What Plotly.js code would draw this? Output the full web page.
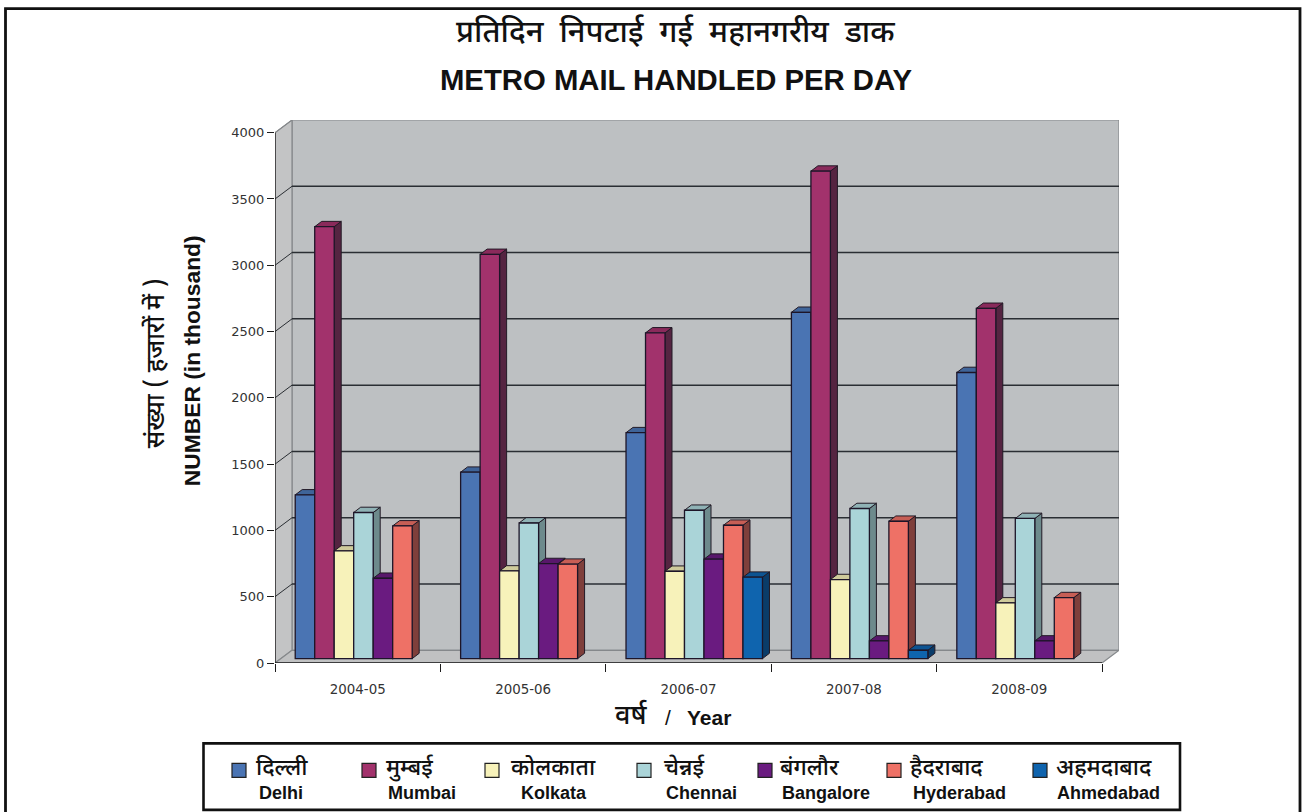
<!DOCTYPE html>
<html>
<head>
<meta charset="utf-8">
<script src="https://cdn.plot.ly/plotly-3.0.1.min.js"></script>
<style>html,body{margin:0;padding:0;background:#fff}#chart{width:1303px;height:812px}</style>
</head>
<body>
<div id="chart"></div>
<script>
// Metro mail handled per day, in thousands
const years = ['2004-05', '2005-06', '2006-07', '2007-08', '2008-09'];
const delhi     = [1235, 1406, 1704, 2612, 2158];
const mumbai    = [3258, 3049, 2457, 3677, 2642];
const kolkata   = [812, 661, 659, 596, 420];
const chennai   = [1102, 1023, 1119, 1132, 1057];
const bangalore = [606, 717, 750, 133, 133];
const hyderabad = [1001, 712, 1006, 1036, 460];
const ahmedabad = [null, null, 614, 63, null];
const yTicks = [0, 500, 1000, 1500, 2000, 2500, 3000, 3500, 4000];

const cities = [
  {hi: 'दिल्ली', en: 'Delhi', values: delhi, front: '#4a74b3', top: '#3f6499', side: '#2f4c78', swatch: 232, hiX: 256, enX: 259},
  {hi: 'मुम्बई', en: 'Mumbai', values: mumbai, front: '#a2326c', top: '#8a2a5b', side: '#552441', swatch: 362, hiX: 386, enX: 388},
  {hi: 'कोलकाता', en: 'Kolkata', values: kolkata, front: '#f7f2ba', top: '#cfcb9b', side: '#9c9975', swatch: 485, hiX: 511, enX: 521},
  {hi: 'चेन्नई', en: 'Chennai', values: chennai, front: '#aad4d8', top: '#8fb2b5', side: '#6d8a8c', swatch: 637, hiX: 664, enX: 666},
  {hi: 'बंगलौर', en: 'Bangalore', values: bangalore, front: '#6a1b80', top: '#58176b', side: '#43114f', swatch: 758, hiX: 780, enX: 782},
  {hi: 'हैदराबाद', en: 'Hyderabad', values: hyderabad, front: '#ee7166', top: '#c75e55', side: '#7f3f3b', swatch: 887, hiX: 910, enX: 913},
  {hi: 'अहमदाबाद', en: 'Ahmedabad', values: ahmedabad, front: '#0f64ae', top: '#0d5492', side: '#0a3c69', swatch: 1033, hiX: 1056, enX: 1057}
];

const HINDI = '"Noto Sans Devanagari", "Noto Sans", "Lohit Devanagari", sans-serif';
const LATIN = '"Liberation Sans", Arial, sans-serif';
const TICKS = '"DejaVu Sans", sans-serif';

// Page geometry and the pseudo-perspective of the chart box
const W = 1303, H = 812;
const frontLeft = 275, frontBottom = 662.7, pxPerYear = 165.4, pxPerUnit = 0.1325;
const wallDx = 17 / pxPerYear, wallDy = 12.7 / pxPerUnit;
const barPlaneDx = 5.75 / pxPerYear, barPlaneDy = 4.4 / pxPerUnit;
const barDepthDx = 7 / pxPerYear, barDepthDy = 5.3 / pxPerUnit;
const groupGap = 0.175;
const slot = (1 - groupGap) / cities.length;
const xMax = years.length + wallDx, yMax = 4000 + wallDy;
const margin = {l: frontLeft, r: W - frontLeft - xMax * pxPerYear, t: frontBottom - yMax * pxPerUnit, b: H - frontBottom, pad: 0};
const plotW = W - margin.l - margin.r, plotH = H - margin.t - margin.b;
const px = x => (x - margin.l) / plotW;
const py = y => 1 - (y - margin.t) / plotH;
const yearCentres = years.map((_, i) => i + 0.5);

const wallLine = '#85888b', gridLine = '#2a2e33', axisLine = '#1c1c1c';
const traces = [];

function polygon(xs, ys, fill, line, width) {
  traces.push({x: xs, y: ys, type: 'scatter', mode: 'lines', fill: 'toself', fillcolor: fill,
    line: {color: line, width: width}, hoverinfo: 'skip', showlegend: false, xaxis: 'x', yaxis: 'y'});
}
function segment(xs, ys, color, width) {
  traces.push({x: xs, y: ys, type: 'scatter', mode: 'lines', line: {color: color, width: width},
    hoverinfo: 'skip', showlegend: false, xaxis: 'x', yaxis: 'y'});
}

// Back wall, side wall and floor
polygon([wallDx, xMax, xMax, wallDx, wallDx], [wallDy, wallDy, yMax, yMax, wallDy], '#bdc0c2', wallLine, 1.2);
polygon([0, wallDx, wallDx, 0, 0], [0, wallDy, yMax, 4000, 0], '#c3c4c5', wallLine, 1.2);
polygon([0, years.length, xMax, wallDx, 0], [0, 0, wallDy, wallDy, 0], '#c0c1c2', wallLine, 1.2);

// Grid lines run along the back wall and slant forward to the value axis
yTicks.filter(v => v > 0 && v < 4000).forEach(v => {
  segment([wallDx, xMax], [v + wallDy, v + wallDy], gridLine, 1.5);
  segment([0, wallDx], [v, v + wallDy], gridLine, 1);
});
segment([0, wallDx], [4000, yMax], wallLine, 1);

// Front axis lines
segment([0, years.length], [0, 0], axisLine, 1.3);
segment([0, 0], [0, 4000], axisLine, 1.3);

// Top and right faces go below the front faces, painted left to right
cities.forEach((c, k) => {
  c.values.forEach((v, i) => {
    if (v === null) return;
    const left = yearCentres[i] + (k - cities.length / 2) * slot + barPlaneDx;
    const right = left + slot;
    const y0 = barPlaneDy, y1 = v + barPlaneDy;
    polygon([right, right + barDepthDx, right + barDepthDx, right, right],
            [y0, y0 + barDepthDy, y1 + barDepthDy, y1, y0], c.side, '#221a26', 1);
    polygon([left, left + barDepthDx, right + barDepthDx, right, left],
            [y1, y1 + barDepthDy, y1 + barDepthDy, y1, y1], c.top, '#221a26', 1);
  });
});

// Front faces, on an overlaid pair of axes shifted into the bar plane
cities.forEach(c => {
  traces.push({type: 'bar', name: c.en, x: yearCentres, y: c.values, xaxis: 'x2', yaxis: 'y2',
    marker: {color: c.front, line: {color: '#1d1528', width: 1.3}}, showlegend: false,
    hovertemplate: c.en + ' %{customdata}: %{y}<extra></extra>', customdata: years});
});

// Page frame and legend box
const shapes = [
  {type: 'rect', xref: 'paper', yref: 'paper', x0: px(5.5), x1: px(1300), y0: py(8.7), y1: py(820),
    line: {color: '#111', width: 2.8}, fillcolor: 'rgba(0,0,0,0)', layer: 'below'},
  {type: 'rect', xref: 'paper', yref: 'paper', x0: px(203.5), x1: px(1180), y0: py(743), y1: py(809.5),
    line: {color: '#111', width: 2.6}, fillcolor: '#fff', layer: 'below'}
];
const annotations = [];
function label(text, x, y, font, anchor, angle) {
  annotations.push({text: text, x: px(x), y: py(y), xref: 'paper', yref: 'paper', showarrow: false,
    xanchor: anchor || 'center', yanchor: 'middle', font: font, textangle: angle || 0, borderpad: 0, borderwidth: 0});
}

cities.forEach(c => {
  shapes.push({type: 'rect', xref: 'paper', yref: 'paper', x0: px(c.swatch), x1: px(c.swatch + 14), y0: py(763), y1: py(777),
    line: {color: '#222', width: 1.2}, fillcolor: c.front});
  label(c.hi, c.hiX, 769, {family: HINDI, size: 23, color: '#111', weight: 500}, 'left');
  label('<b>' + c.en + '</b>', c.enX, 793, {family: LATIN, size: 18, color: '#111'}, 'left');
});

label('प्रतिदिन&nbsp;&nbsp;निपटाई&nbsp;&nbsp;गई&nbsp;&nbsp;महानगरीय&nbsp;&nbsp;डाक', 675, 35, {family: HINDI, size: 31, color: '#111', weight: 500});
label('संख्या ( हजारों में )', 157, 363, {family: HINDI, size: 25, color: '#111', weight: 500}, 'center', -90);
label('<b>NUMBER (in thousand)</b>', 192, 361, {family: LATIN, size: 22.8, color: '#111'}, 'center', -90);
label('वर्ष', 615, 717, {family: HINDI, size: 27, color: '#111', weight: 500}, 'left');
label('/', 668, 717, {family: LATIN, size: 21, color: '#111'});
label('<b>Year</b>', 687, 717, {family: LATIN, size: 21, color: '#111'}, 'left');

const layout = {
  width: W, height: H, margin: margin, autosize: false,
  paper_bgcolor: '#fff', plot_bgcolor: 'rgba(0,0,0,0)', showlegend: false,
  bargap: groupGap, bargroupgap: 0, barmode: 'group',
  title: {text: '<b>METRO MAIL HANDLED PER DAY</b>', x: 676 / W, xanchor: 'center', y: 1 - 80 / H, yanchor: 'middle',
    font: {family: LATIN, size: 29.3, color: '#111'}},
  xaxis: {type: 'linear', range: [0, xMax], fixedrange: true, showgrid: false, zeroline: false, showline: false,
    tickmode: 'array', tickvals: yearCentres, ticktext: years, ticks: '', ticklabelstandoff: 17,
    tickfont: {family: TICKS, size: 13.4, color: '#333'},
    minor: {tickmode: 'array', tickvals: [0, 1, 2, 3, 4, 5], ticks: 'outside', ticklen: 8, tickwidth: 1.3, tickcolor: axisLine, showgrid: false}},
  yaxis: {type: 'linear', range: [0, yMax], fixedrange: true, showgrid: false, zeroline: false, showline: false,
    tickmode: 'array', tickvals: yTicks, ticktext: yTicks.map(String), ticks: 'outside', ticklen: 7, tickwidth: 1.3, tickcolor: axisLine,
    tickfont: {family: TICKS, size: 13, color: '#333'}},
  xaxis2: {type: 'linear', overlaying: 'x', range: [-barPlaneDx, xMax - barPlaneDx], visible: false, fixedrange: true},
  yaxis2: {type: 'linear', overlaying: 'y', range: [-barPlaneDy, yMax - barPlaneDy], visible: false, fixedrange: true},
  shapes: shapes, annotations: annotations
};

Plotly.newPlot('chart', traces, layout, {displayModeBar: false});
</script>
</body>
</html>
